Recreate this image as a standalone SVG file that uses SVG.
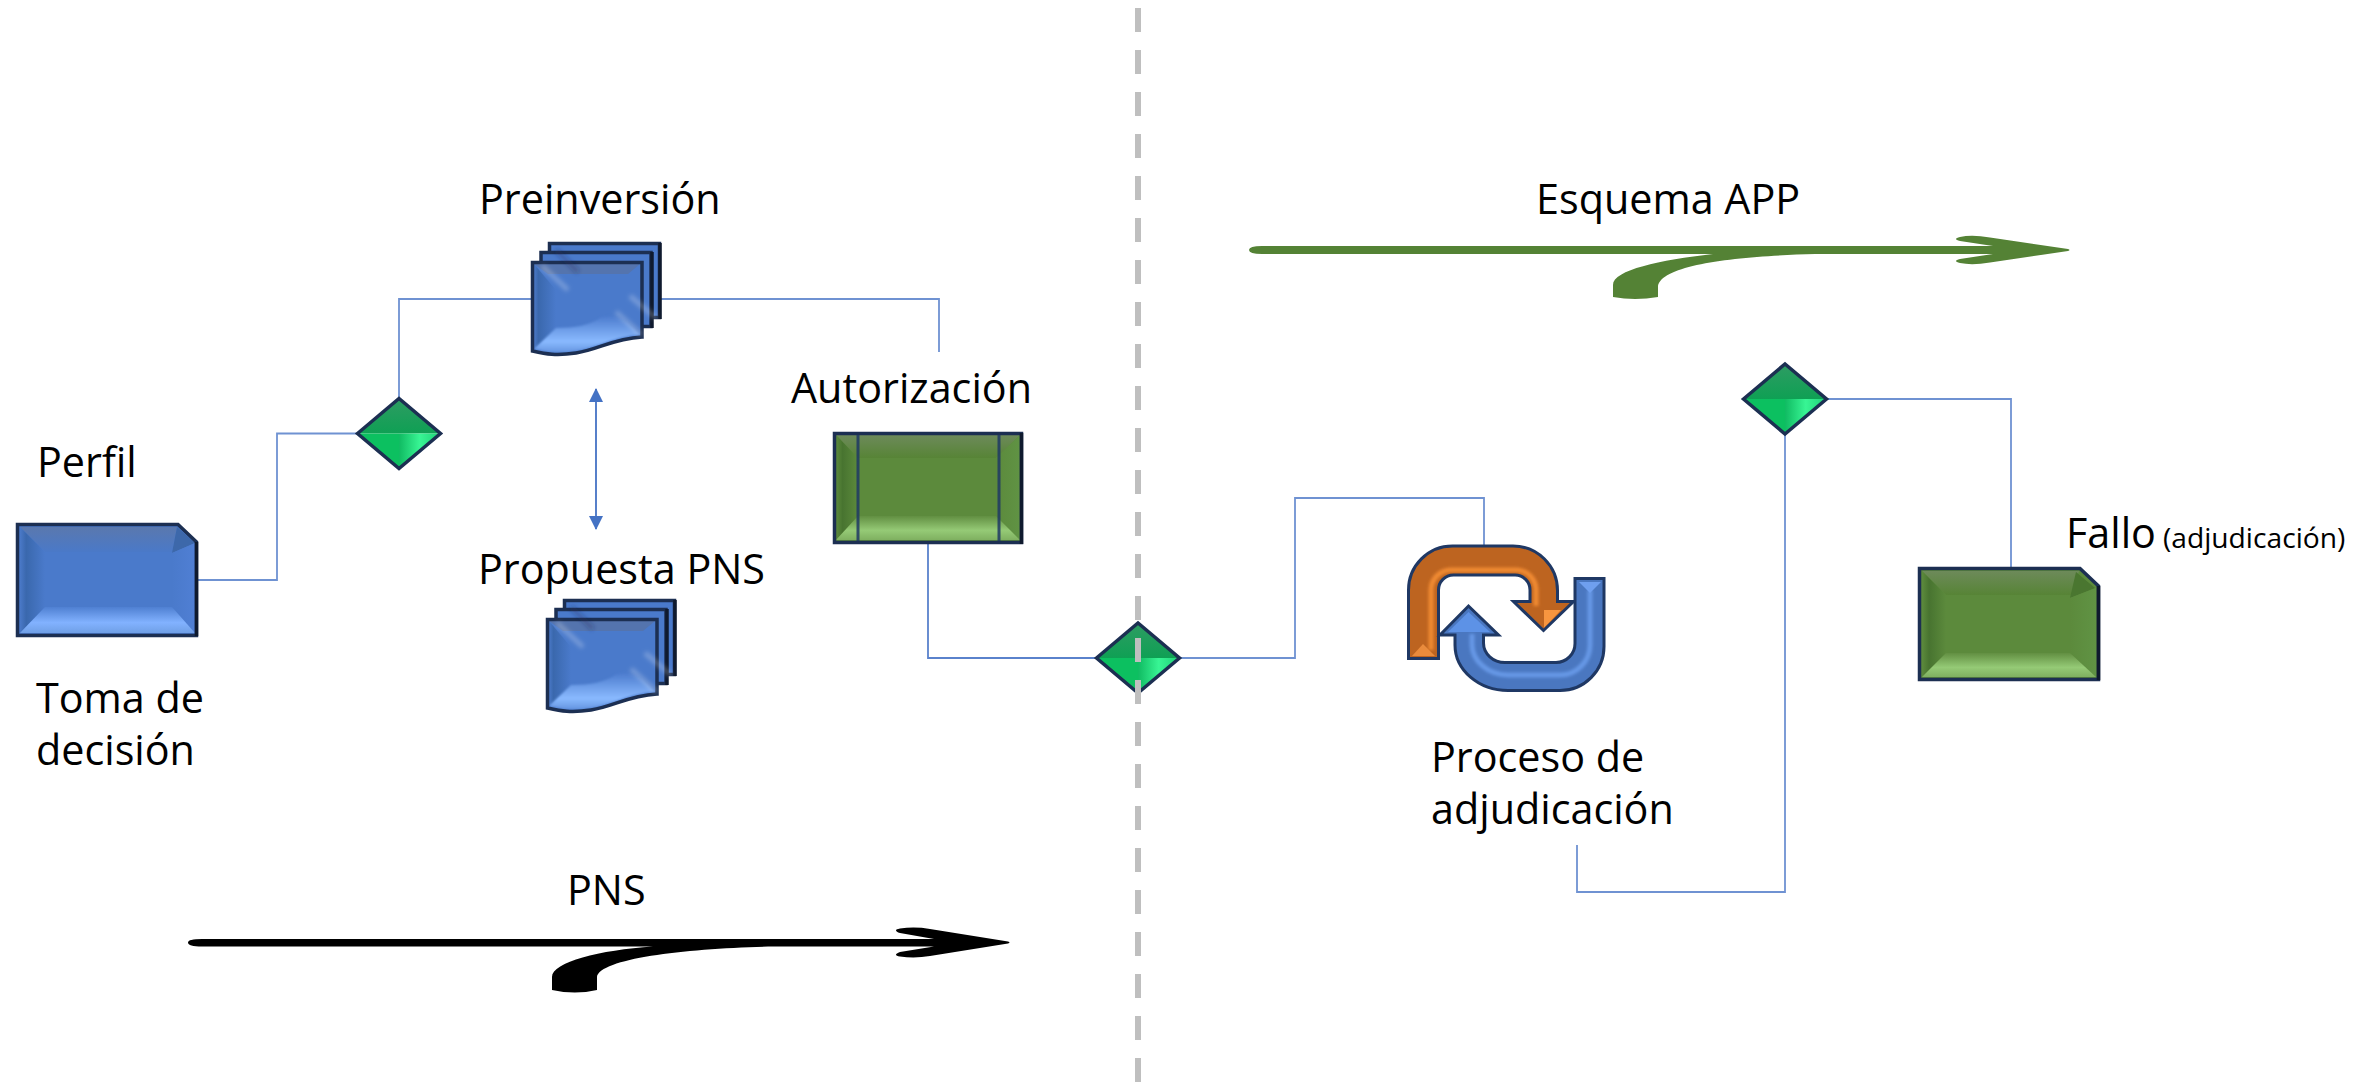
<svg xmlns="http://www.w3.org/2000/svg" width="2359" height="1082" viewBox="0 0 2359 1082">
<style>
text{font-family:"Open Sans","Noto Sans","Liberation Sans",sans-serif;font-size:41.3px;fill:#000}
.small{font-size:28.2px}
.conn{fill:none;stroke:#6f92d2;stroke-width:1.8}
.edge{fill:none;stroke:#1c2f52;stroke-width:3.5;stroke-linejoin:miter}
.edge2{fill:none;stroke:#0f1a2e;stroke-width:3.5}
.bTop{fill:url(#bTop)}.bLeft{fill:url(#bLeft)}.bRight{fill:url(#bRight)}.bBot{fill:url(#bBot)}.bMid{fill:#4a7acb}.bNotch{fill:#3d68aa}
.gTop{fill:url(#gTop)}.gLeft{fill:url(#gLeft)}.gRight{fill:url(#gRight)}.gBot{fill:url(#gBot)}.gMid{fill:#5c8a3c}.gNotch{fill:#4a7630}
.streak{stroke:#fff;stroke-opacity:.24;stroke-width:5;filter:url(#soft3);fill:none}
.streakD{stroke:#16305e;stroke-opacity:.3;stroke-width:5;filter:url(#soft3);fill:none}
.bar{fill:none;stroke:#1f3864;stroke-opacity:.85;stroke-width:3}
</style>
<defs>
<filter id="soft" x="-30%" y="-30%" width="160%" height="160%"><feGaussianBlur stdDeviation="1.2"/></filter>
<filter id="soft2" x="-10%" y="-10%" width="120%" height="120%"><feGaussianBlur stdDeviation="1.8"/></filter>
<filter id="soft3" x="-40%" y="-40%" width="180%" height="180%"><feGaussianBlur stdDeviation="2"/></filter>
<linearGradient id="bTop" x1="0" y1="0" x2="0" y2="1"><stop offset="0" stop-color="#5a78ae"/><stop offset="1" stop-color="#4a79c8"/></linearGradient>
<linearGradient id="bLeft" x1="0" y1="0" x2="1" y2="0"><stop offset="0" stop-color="#4a79c8"/><stop offset=".25" stop-color="#3a68ad"/><stop offset="1" stop-color="#4a7acb"/></linearGradient>
<linearGradient id="bRight" x1="0" y1="0" x2="1" y2="0"><stop offset="0" stop-color="#4a7acb"/><stop offset="1" stop-color="#507fd4"/></linearGradient>
<linearGradient id="bBot" x1="0" y1="0" x2="0" y2="1"><stop offset="0" stop-color="#4f80d2"/><stop offset=".6" stop-color="#82b2ff"/><stop offset="1" stop-color="#6f9fe6"/></linearGradient>
<linearGradient id="gTop" x1="0" y1="0" x2="0" y2="1"><stop offset="0" stop-color="#6d8a5a"/><stop offset="1" stop-color="#578436"/></linearGradient>
<linearGradient id="gLeft" x1="0" y1="0" x2="1" y2="0"><stop offset="0" stop-color="#5c8a3c"/><stop offset=".3" stop-color="#487430"/><stop offset="1" stop-color="#5c8a3c"/></linearGradient>
<linearGradient id="gRight" x1="0" y1="0" x2="1" y2="0"><stop offset="0" stop-color="#5c8a3c"/><stop offset="1" stop-color="#609344"/></linearGradient>
<linearGradient id="gBot" x1="0" y1="0" x2="0" y2="1"><stop offset="0" stop-color="#628f42"/><stop offset=".6" stop-color="#95ca76"/><stop offset="1" stop-color="#7fb060"/></linearGradient>
<linearGradient id="dBR" x1="0" y1="0" x2="1" y2="0"><stop offset="0" stop-color="#10bb62"/><stop offset=".5" stop-color="#38f594"/><stop offset="1" stop-color="#1ed076"/></linearGradient>
<linearGradient id="dTL" x1="0" y1="0" x2="0" y2="1"><stop offset="0" stop-color="#2e9c63"/><stop offset="1" stop-color="#0fa054"/></linearGradient>
<linearGradient id="wave" x1="0" y1="0" x2="0" y2="1"><stop offset="0" stop-color="#4b7bcd"/><stop offset=".7" stop-color="#8abaff"/><stop offset="1" stop-color="#6595e0"/></linearGradient>
<linearGradient id="waveL" x1="0" y1="0" x2="1" y2="0"><stop offset="0" stop-color="#4a79c8"/><stop offset=".2" stop-color="#3a68ad"/><stop offset="1" stop-color="#4a7acb"/></linearGradient>
<marker id="ah" viewBox="0 0 14 14" refX="13" refY="7" markerWidth="14" markerHeight="14" orient="auto-start-reverse" markerUnits="userSpaceOnUse"><path d="M0 0L14 7L0 14Z" fill="#4472c4"/></marker>
<g id="diamondShape">
<path d="M-41.500 0L0 -35L0 0Z" fill="url(#dTL)"/>
<path d="M41.500 0L0 -35L0 0Z" fill="url(#dTL)"/>
<path d="M-41.500 0L0 35L0 0Z" fill="#0cc060"/>
<path d="M41.500 0L0 35L0 0Z" fill="url(#dBR)"/>
<path d="M-41.500 0L0 -35L41.500 0L0 35Z" class="edge"/>
</g>
<g id="stackShape">
<rect x="549.5" y="243.5" width="110" height="74" fill="#4a7acb" stroke="#1c2f52" stroke-width="3.5"/>
<path d="M660 243V319" class="edge2"/>
<rect x="541" y="252.5" width="110" height="74" fill="#4a7acb" stroke="#1c2f52" stroke-width="3.5"/>
<path d="M652 252V328" class="edge2"/>
<path d="M532.5 262.5H642V337C612 339 600 349 576 353C556 356 546 354 532.5 351Z" fill="#4a7acb"/>
<path d="M534 264L556 290V330L534 349Z" fill="url(#waveL)"/>
<path d="M534 264H640L628 274H548Z" fill="#5474ae"/>
<path d="M534 349L556 328C575 328 590 325 600 318C612 312 625 318 640 335C612 337 600 347 576 351C556 354 546 352 534 349Z" fill="url(#wave)" filter="url(#soft)"/>
<path d="M532.5 262.5H642V337C612 339 600 349 576 353C556 356 546 354 532.5 351Z" class="edge"/>
<path d="M542 266L568 290" class="streak"/>
<path d="M616 312L642 335M630 296L656 318" class="streak"/>
<path d="M556 250L578 272" class="streakD"/>
</g>
</defs>

<g id="connectors">
<path class="conn" d="M198 580H277V433.500H358"/>
<path class="conn" d="M399 400V299H532"/>
<path class="conn" d="M660 299H939V352"/>
<path class="conn" d="M596 389V529" style="stroke:#4472c4" marker-start="url(#ah)" marker-end="url(#ah)"/>
<path class="conn" d="M928 544V658H1097" style="stroke:#5a82cc"/>
<path class="conn" d="M1179 658H1295V498H1484V547"/>
<path class="conn" d="M1577 845V892H1785V433"/>
<path class="conn" d="M1826 399H2011V567"/>
</g>

<g id="node-perfil">
<path class="bMid" d="M18 525H178L197 543V636H18Z"/>
<path class="bTop" d="M20 527H177L172 552H45Z"/>
<path class="bNotch" d="M177 527L195 543L172 553Z"/>
<path class="bLeft" d="M20 527L45 552V607L20 633Z"/>
<path class="bRight" d="M195 543L172 553V607L195 633Z"/>
<path class="bBot" d="M20 633L45 607H172L195 633Z"/>
<path class="edge" d="M17.500 524.500H178L196.500 542V635.500H17.500Z"/>
<path class="edge2" d="M196.500 542V636"/>
</g>

<g id="node-preinversion"><use href="#stackShape"/></g>
<g id="node-propuesta"><use href="#stackShape" x="15" y="357"/></g>

<g id="node-autorizacion">
<rect class="gMid" x="834" y="433" width="188" height="110"/>
<path class="gTop" d="M836 435H1020L996 458H858Z"/>
<path class="gLeft" d="M836 435L858 458V516L836 540Z"/>
<path class="gRight" d="M1020 435L996 458V516L1020 540Z"/>
<path class="gBot" d="M836 540L858 516H996L1020 540Z"/>
<rect class="edge" x="834.500" y="433.500" width="187" height="109"/>
<path class="edge2" d="M1021.500 433V544"/>
<path class="bar" d="M858 435V541M999 435V541"/>
</g>

<g id="node-fallo">
<path class="gMid" d="M1919 568H2080L2099 587V680H1919Z"/>
<path class="gTop" d="M1922 571H2079L2072 595H1946Z"/>
<path class="gNotch" d="M2076 572L2095 588L2070 598Z"/>
<path class="gLeft" d="M1922 571L1946 595V653L1922 677Z"/>
<path class="gRight" d="M2096 588L2070 598V653L2096 677Z"/>
<path class="gBot" d="M1922 677L1946 653H2070L2096 677Z"/>
<path class="edge" d="M1919.500 568.500H2080L2098.500 586V679.500H1919.500Z"/>
<path class="edge2" d="M2098.500 586V680"/>
</g>

<g id="gate-1"><use href="#diamondShape" x="399" y="433.500"/></g>
<g id="gate-2"><use href="#diamondShape" x="1138" y="658"/></g>
<g id="gate-3"><use href="#diamondShape" x="1785" y="399"/></g>

<g id="node-proceso">
<path id="cycleOrange" d="M1408.500 658.500V590A44 44 0 0 1 1452.500 546H1513A44.500 44.500 0 0 1 1557.500 590.500V601.500H1573.500L1543.500 630.500L1513.500 601.500H1530V590A15 15 0 0 0 1515 575H1453.500A15 15 0 0 0 1438.500 590V658.500Z" fill="#bd6420"/>
<path d="M1431 650V590A20 20 0 0 1 1451 570H1516A20 20 0 0 1 1536 590V606" fill="none" stroke="#f08a33" stroke-width="5" filter="url(#soft2)"/>
<path d="M1412 656L1423 644L1435 656Z" fill="#e98b3c"/>
<path d="M1544 628V610H1561Z" fill="#f7953f"/>
<path d="M1408.500 658.500V590A44 44 0 0 1 1452.500 546H1513A44.500 44.500 0 0 1 1557.500 590.500V601.500H1573.500L1543.500 630.500L1513.500 601.500H1530V590A15 15 0 0 0 1515 575H1453.500A15 15 0 0 0 1438.500 590V658.500Z" fill="none" stroke="#1f3864" stroke-width="3"/>
<path id="cycleBlue" d="M1575 578.500H1604V646.500A44 44 0 0 1 1560 690.500H1508A53 45.500 0 0 1 1455 645V635H1440L1468.500 606L1498.500 635H1483.500V643A21.500 19.500 0 0 0 1505 662.500H1556A19 19 0 0 0 1575 643.500Z" fill="#4a77c0"/>
<path d="M1590 590V645A30 30 0 0 1 1560 675H1508A36 31 0 0 1 1472 644V634" fill="none" stroke="#6698e6" stroke-width="5" filter="url(#soft2)"/>
<path d="M1579 582L1590 593L1601 582Z" fill="#6f9fef"/>
<path d="M1468.500 612L1448 632H1490Z" fill="#5d92e6"/>
<path d="M1575 578.500H1604V646.500A44 44 0 0 1 1560 690.500H1508A53 45.500 0 0 1 1455 645V635H1440L1468.500 606L1498.500 635H1483.500V643A21.500 19.500 0 0 0 1505 662.500H1556A19 19 0 0 0 1575 643.500Z" fill="none" stroke="#1f3864" stroke-width="3"/>
</g>

<g id="arrow-pns">
<path fill="#000" d="M188 942.500Q188 939 202 939H934L900 933Q892 930 900 928.500Q915 926.500 930 929L1008 941.500Q1011 942.500 1008 943.500L930 956Q915 958.500 900 956.500Q892 955 900 952L934 946.500H774C690 948 600 958 597 977V990Q575 995 552 990V977C552 962 600 950 653 946.500H202Q188 946.500 188 942.500Z"/>
</g>
<g id="arrow-app">
<path fill="#548235" d="M1249 250Q1249 246 1262 246H1993L1960 241Q1952 239 1960 237Q1972 234.500 1990 237.500L2068 249Q2071 250 2068 251L1990 262.500Q1972 265.500 1960 263Q1952 261 1960 259L1993 254H1815C1740 256 1662 264 1658 286V297Q1635 301 1613 297V285C1613 270 1660 260 1713 254H1262Q1249 254 1249 250Z"/>
</g>

<g id="divider"><path d="M1138 8V1082" fill="none" stroke="#bfbfbf" stroke-width="6" stroke-dasharray="24 18"/></g>

<g id="labels">
<text x="479" y="214">Preinversión</text>
<text x="791" y="403">Autorización</text>
<text x="37" y="477">Perfil</text>
<text x="36" y="713">Toma de</text>
<text x="36" y="765">decisión</text>
<text x="478" y="584">Propuesta PNS</text>
<text x="567" y="905">PNS</text>
<text x="1536" y="214">Esquema APP</text>
<text x="1431" y="772">Proceso de</text>
<text x="1431" y="824">adjudicación</text>
<text x="2066" y="548">Fallo <tspan class="small" x="2163">(adjudicación)</tspan></text>
</g>
</svg>
